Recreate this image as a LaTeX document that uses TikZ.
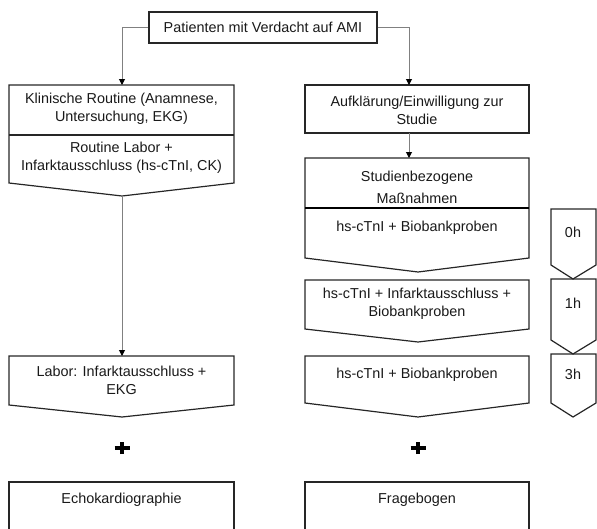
\documentclass[tikz,border=0pt]{standalone}
\usepackage{fontspec}
\setmainfont{Liberation Sans}
\usetikzlibrary{arrows.meta}
\begin{document}
\begin{tikzpicture}[x=0.75pt,y=-0.75pt,
  box/.style={draw=black!85, line width=0.9pt},
  divider/.style={draw=black, line width=1.6pt},
  conn/.style={draw=black!50, line width=0.75pt, -{Triangle[width=4.5pt,length=4.5pt,color=black]}},
  txt/.style={font=\fontsize{10.8}{13.5}\selectfont, text=black!90, align=center, inner sep=0pt},
  plus/.style={line width=3pt, draw=black}
]
\useasboundingbox (0,0) rectangle (597,529);

% top node
\node[box, txt, minimum width=171pt, minimum height=23.25pt] (start) at (263,27.5) {Patienten mit Verdacht auf AMI};

% ---------- left column ----------
\draw[box] (9,85) -- (234,85) -- (234,183) -- (122,196) -- (9,183) -- cycle;
\draw[box] (9,135) -- (234,135);
\coordinate (k1top) at (122,85);
\coordinate (k1tip) at (122,196);
\node[txt] (klin) at (121.5,109) {Klinische Routine (Anamnese,\\Untersuchung, EKG)};
\node[txt] (rlab) at (121.5,158) {Routine Labor +\\Infarktausschluss (hs-cTnI, CK)};

\draw[box] (9,356) -- (234,356) -- (234,405) -- (122,417) -- (9,405) -- cycle;
\coordinate (labtop) at (122,356);
\node[txt] (labor) at (121.5,380) {Labor: Infarktausschluss +\\EKG};

\node (plusL) at (122,448) {};
\draw[plus] ([xshift=-7.5*0.75pt]plusL.center) -- ([xshift=7.5*0.75pt]plusL.center);
\draw[plus] ([yshift=-6*0.75pt]plusL.center) -- ([yshift=6*0.75pt]plusL.center);

\draw[box] (9,535) -- (9,482) -- (234,482) -- (234,535);
\node[txt] (echo) at (121.5,500) {Echokardiographie};

% ---------- right column ----------
\draw[box] (305,85) rectangle (529,133);
\coordinate (auftop) at (409,85);
\coordinate (aufbot) at (409,133);
\node[txt] (auf) at (417,110) {Aufklärung/Einwilligung zur\\Studie};

\draw[box] (305,158) -- (529,158) -- (529,258) -- (418,272) -- (305,258) -- cycle;
\draw[divider] (305,208) -- (529,208);
\coordinate (studtop) at (409,158);
\node[txt, font=\fontsize{10.8}{16.5}\selectfont] (stud) at (417,187) {Studienbezogene\\Maßnahmen};
\node[txt] (t0) at (417,228) {hs-cTnI + Biobankproben};

\draw[box] (305,280) -- (529,280) -- (529,329) -- (418,342) -- (305,329) -- cycle;
\node[txt] (t1) at (417,304) {hs-cTnI + Infarktausschluss +\\Biobankproben};

\draw[box] (305,356) -- (529,356) -- (529,403) -- (418,417) -- (305,403) -- cycle;
\node[txt] (t3) at (417,375) {hs-cTnI + Biobankproben};

\node (plusR) at (418,448) {};
\draw[plus] ([xshift=-7.5*0.75pt]plusR.center) -- ([xshift=7.5*0.75pt]plusR.center);
\draw[plus] ([yshift=-6*0.75pt]plusR.center) -- ([yshift=6*0.75pt]plusR.center);

\draw[box] (305,535) -- (305,482) -- (529,482) -- (529,535);
\node[txt] (frage) at (417,500) {Fragebogen};

% ---------- timeline ----------
\draw[box] (551,209) -- (596,209) -- (596,265) -- (573,279) -- (551,265) -- cycle;
\node[txt] (h0) at (573,232) {0h};
\draw[box] (551,279) -- (596,279) -- (596,340) -- (573,354) -- (551,340) -- cycle;
\node[txt] (h1) at (573,303) {1h};
\draw[box] (551,354) -- (596,354) -- (596,403) -- (573,417) -- (551,403) -- cycle;
\node[txt] (h3) at (573,374) {3h};

% ---------- connectors ----------
\draw[conn] (start.west) -| (k1top);
\draw[conn] (start.east) -| (auftop);
\draw[conn] (k1tip) -- (labtop);
\draw[conn] (aufbot) -- (studtop);
\end{tikzpicture}
\end{document}
